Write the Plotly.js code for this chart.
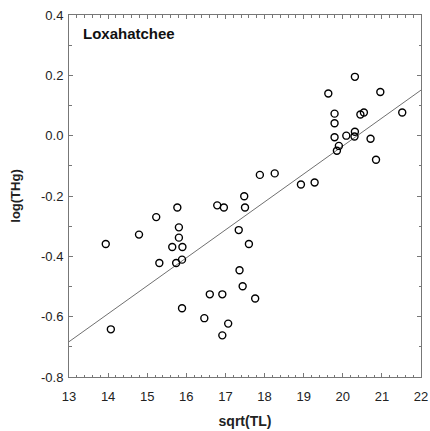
<!DOCTYPE html>
<html>
<head>
<meta charset="utf-8">
<script src="https://cdn.plot.ly/plotly-3.0.1.min.js"></script>
<style>html,body{margin:0;padding:0;background:#fff;}#chart{width:430px;height:431px;}</style>
</head>
<body>
<div id="chart"></div>
<script>
const sqrtTL = [20.31, 19.63, 20.96, 19.79, 19.79, 20.45, 20.54, 21.52, 19.79, 20.09,
  20.31, 20.30, 20.71, 19.90, 19.85, 20.85, 17.88, 18.26, 18.93, 19.28,
  17.48, 13.94, 14.07, 14.79, 15.23, 15.31, 15.77, 15.81, 15.81, 15.64,
  15.90, 15.74, 15.89, 15.89, 16.46, 16.60, 16.92, 16.92, 17.07, 16.79,
  16.96, 17.50, 17.34, 17.60, 17.36, 17.44, 17.76];
const logTHg = [0.195, 0.140, 0.145, 0.073, 0.041, 0.070, 0.077, 0.077, -0.005, 0.000,
  0.013, -0.003, -0.010, -0.034, -0.050, -0.080, -0.130, -0.125, -0.162, -0.155,
  -0.201, -0.359, -0.642, -0.328, -0.270, -0.422, -0.238, -0.304, -0.338, -0.369,
  -0.369, -0.422, -0.411, -0.572, -0.605, -0.526, -0.526, -0.662, -0.623, -0.231,
  -0.238, -0.238, -0.313, -0.359, -0.446, -0.499, -0.540];
const fitX = [13, 22];
const fitY = [-0.683, 0.151];
const xTicks = [13, 14, 15, 16, 17, 18, 19, 20, 21, 22];
const yTicks = [0.4, 0.2, 0.0, -0.2, -0.4, -0.6, -0.8];
const yTickText = ['0.4', '0.2', '0.0', '-0.2', '-0.4', '-0.6', '-0.8'];

const font = 'Liberation Sans, Arial, sans-serif';
const traces = [
  {x: fitX, y: fitY, mode: 'lines', line: {color: '#707070', width: 1}, hoverinfo: 'skip', showlegend: false},
  {x: sqrtTL, y: logTHg, mode: 'markers', showlegend: false,
   marker: {symbol: 'circle-open', size: 7, color: '#000', line: {width: 1.4, color: '#000'}}}
];
const axisCommon = {
  showgrid: false, zeroline: false, showline: true, linecolor: '#777', linewidth: 1,
  mirror: 'allticks', ticks: 'inside', ticklen: 4, tickcolor: '#777', tickwidth: 1,
  tickfont: {family: font, size: 13, color: '#222'}
};
const layout = {
  width: 430, height: 431,
  margin: {l: 69, r: 9, t: 15, b: 54},
  paper_bgcolor: '#fff', plot_bgcolor: '#fff',
  xaxis: Object.assign({}, axisCommon, {
    range: [13, 22], tickvals: xTicks, ticklabelstandoff: 7,
    minor: {dtick: 0.2, ticks: 'inside', ticklen: 2.5, tickcolor: '#777', showgrid: false},
    title: {text: '<b>sqrt(TL)</b>', font: {family: font, size: 14, color: '#222'}, standoff: 13}
  }),
  yaxis: Object.assign({}, axisCommon, {
    range: [-0.8, 0.4], tickvals: yTicks, ticktext: yTickText, ticklabelstandoff: 2,
    minor: {dtick: 0.1, ticks: 'inside', ticklen: 2.5, tickcolor: '#777', showgrid: false},
    title: {text: '<b>log(THg)</b>', font: {family: font, size: 13, color: '#222'}, standoff: 17}
  }),
  annotations: [{
    text: '<b>Loxahatchee</b>', xref: 'paper', yref: 'paper', x: 0.035, y: 0.95,
    xanchor: 'left', yanchor: 'middle', showarrow: false,
    font: {family: font, size: 15, color: '#111'}
  }]
};
Plotly.newPlot('chart', traces, layout, {staticPlot: true, displayModeBar: false});
</script>
</body>
</html>
